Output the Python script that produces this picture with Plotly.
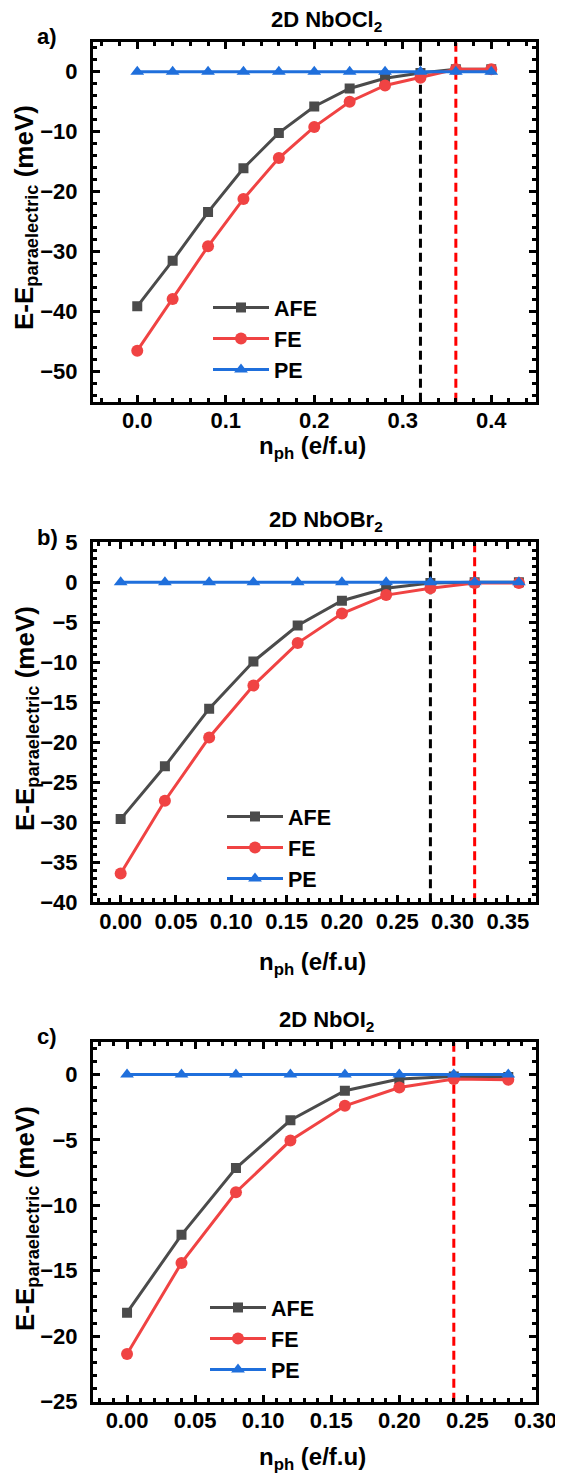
import plotly.graph_objects as go

# page has an 8px body margin: figure drawn at (8, 8) inside the 563x1476 window
OFF = 8
FW, FH = 563 - OFF, 1476 - OFF

# ---------------- data ----------------
x_a = [0.00, 0.04, 0.08, 0.12, 0.16, 0.20, 0.24, 0.28, 0.32, 0.36, 0.40]
afe_a = [-39.1, -31.5, -23.4, -16.1, -10.2, -5.8, -2.8, -1.1, -0.2, 0.4, 0.4]
fe_a = [-46.5, -37.9, -29.1, -21.2, -14.4, -9.2, -5.0, -2.3, -1.0, 0.4, 0.4]
pe_a = [0, 0, 0, 0, 0, 0, 0, 0, 0, 0, 0]

x_b = [0.00, 0.04, 0.08, 0.12, 0.16, 0.20, 0.24, 0.28, 0.32, 0.36]
afe_b = [-29.6, -23.0, -15.8, -9.9, -5.4, -2.3, -0.75, -0.1, 0.0, 0.0]
fe_b = [-36.4, -27.3, -19.4, -12.9, -7.6, -3.9, -1.6, -0.75, -0.1, -0.1]
pe_b = [0, 0, 0, 0, 0, 0, 0, 0, 0, 0]

x_c = [0.00, 0.04, 0.08, 0.12, 0.16, 0.20, 0.24, 0.28]
afe_c = [-18.2, -12.25, -7.15, -3.5, -1.25, -0.35, -0.15, -0.2]
fe_c = [-21.35, -14.4, -9.0, -5.05, -2.4, -1.0, -0.35, -0.4]
pe_c = [0, 0, 0, 0, 0, 0, 0, 0]

afe_transition = [0.32, 0.28, None]
fe_transition = [0.36, 0.32, 0.24]

titles = ["2D NbOCl<sub>2</sub>", "2D NbOBr<sub>2</sub>", "2D NbOI<sub>2</sub>"]
panel_labels = ["a)", "b)", "c)"]
series_names = ["AFE", "FE", "PE"]
x_title = "n<sub>ph</sub> (e/f.u)"
y_title = "E-E<sub>paraelectric</sub> (meV)"

x_ranges = [[-0.05, 0.45], [-0.025, 0.375], [-0.025, 0.30]]
x_dticks = [0.1, 0.05, 0.05]
x_formats = [".1f", ".2f", ".2f"]
y_ranges = [[-55, 5], [-40, 5], [-25, 2.5]]
y_dticks = [10, 5, 5]

# ---------------- style ----------------
FONT = "Liberation Sans, Arial, sans-serif"
C_AFE = "#4b4b4b"
C_FE = "#f04343"
C_PE = "#1f6fdc"


def px(p):  # window pixel x -> paper
    return (p - OFF) / FW


def py(p):  # window pixel y (from top) -> paper
    return 1 - (p - OFF) / FH


x_dom = [px(93), px(535.5)]
y_boxes = [(41.7, 401.7), (542.3, 902.3), (1041.7, 1401.7)]
legend_pos = [(208, 287), (222, 796), (205, 1287)]
xtitle_y = [447, 963, 1458]
ytitle_y = [218, 719, 1219]

data = [(x_a, afe_a, fe_a, pe_a), (x_b, afe_b, fe_b, pe_b), (x_c, afe_c, fe_c, pe_c)]

fig = go.Figure()
layout = dict(width=FW, height=FH, margin=dict(l=0, r=0, t=0, b=0, autoexpand=False),
              paper_bgcolor="white", plot_bgcolor="white",
              font=dict(family=FONT, size=22, color="black", weight="bold"),
              showlegend=True)
annotations = []
shapes = []

for i, (xs, afe, fe, pe) in enumerate(data):
    k = "" if i == 0 else str(i + 1)
    xa, ya = "x" + k, "y" + k
    leg = "legend" + k
    for name, ys, col, sym, size in [(series_names[0], afe, C_AFE, "square", 10),
                                     (series_names[1], fe, C_FE, "circle", 12),
                                     (series_names[2], pe, C_PE, "triangle-up", 12)]:
        fig.add_trace(go.Scatter(x=xs, y=ys, name=name, mode="lines+markers",
                                 line=dict(color=col, width=3),
                                 marker=dict(symbol=sym, size=size, color=col),
                                 xaxis=xa, yaxis=ya, legend=leg))
    top, bot = y_boxes[i]
    axis_common = dict(showline=True, linewidth=3, linecolor="black", mirror="ticks",
                       ticks="inside", ticklen=7, tickwidth=2.5, tickcolor="black",
                       showgrid=False, zeroline=False, automargin=False,
                       tickfont=dict(family=FONT, size=22, color="black", weight="bold"),
                       minor=dict(ticks="inside", ticklen=4, tickwidth=2.5, tickcolor="black",
                                  showgrid=False))
    layout["xaxis" + k] = dict(axis_common, domain=x_dom, range=x_ranges[i],
                               dtick=x_dticks[i], tick0=0, tickformat=x_formats[i],
                               anchor=ya, ticklabelstandoff=-3)
    layout["yaxis" + k] = dict(axis_common, domain=[py(bot), py(top)], range=y_ranges[i],
                               dtick=y_dticks[i], tick0=0, anchor=xa,
                               ticklabelstandoff=8)
    lx, ly = legend_pos[i]
    layout[leg] = dict(x=px(lx), y=py(ly), xanchor="left", yanchor="top",
                       bgcolor="rgba(0,0,0,0)", borderwidth=0, itemwidth=56,
                       font=dict(family=FONT, size=21.5, color="black", weight="bold"),
                       tracegroupgap=0)
    # transition lines
    if afe_transition[i] is not None:
        shapes.append(dict(type="line", xref=xa, yref=ya + " domain",
                           x0=afe_transition[i], x1=afe_transition[i], y0=0, y1=1,
                           line=dict(color="black", width=3, dash="9px,5px"), layer="below"))
    if fe_transition[i] is not None:
        shapes.append(dict(type="line", xref=xa, yref=ya + " domain",
                           x0=fe_transition[i], x1=fe_transition[i], y0=0, y1=1,
                           line=dict(color="#ff0000", width=3, dash="9px,5px"), layer="below"))
    # titles and labels
    annotations.append(dict(text=titles[i], x=px(326), y=py(top - 21), xref="paper", yref="paper",
                            xanchor="center", yanchor="middle", showarrow=False,
                            font=dict(family=FONT, size=22, color="black", weight="bold")))
    annotations.append(dict(text=panel_labels[i], x=px(47), y=py(top - 5), xref="paper", yref="paper",
                            xanchor="center", yanchor="middle", showarrow=False,
                            font=dict(family=FONT, size=22, color="black", weight="bold")))
    annotations.append(dict(text=x_title, x=px(312), y=py(xtitle_y[i]),
                            xref="paper", yref="paper", xanchor="center", yanchor="middle",
                            showarrow=False,
                            font=dict(family=FONT, size=24, color="black", weight="bold")))
    annotations.append(dict(text=y_title, x=px(26), y=py(ytitle_y[i]),
                            xref="paper", yref="paper",
                            xanchor="center", yanchor="middle", textangle=-90, showarrow=False,
                            font=dict(family=FONT, size=26, color="black", weight="bold")))

layout["annotations"] = annotations
layout["shapes"] = shapes
fig.update_layout(**layout)
fig.write_html("out.html")
